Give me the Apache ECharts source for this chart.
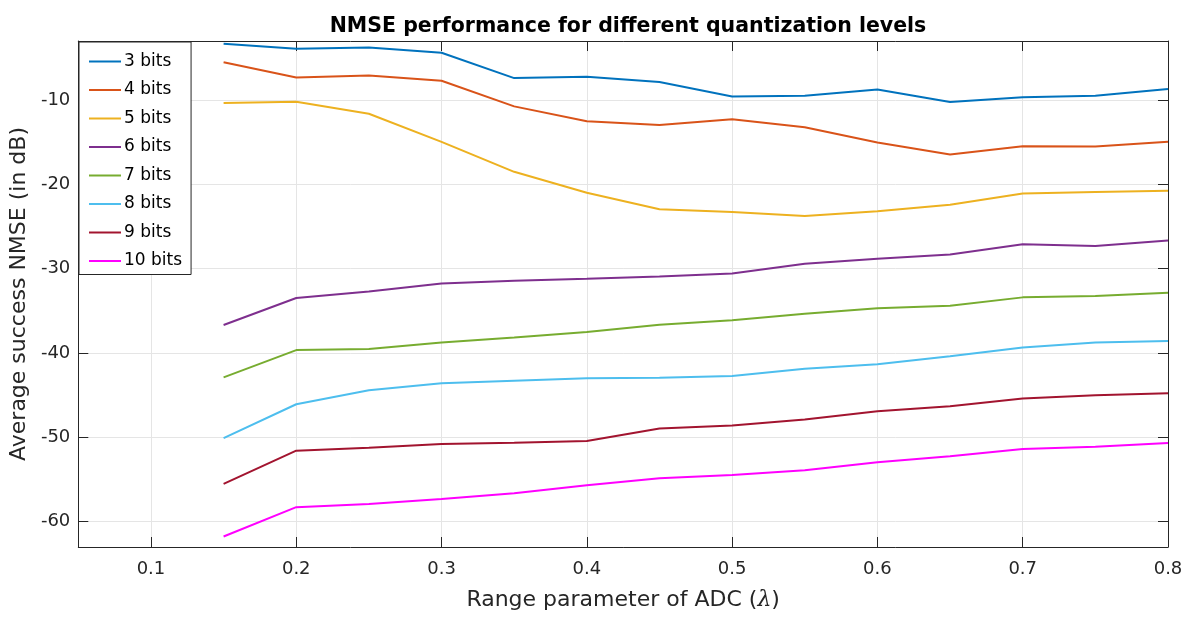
<!DOCTYPE html>
<html><head><meta charset="utf-8">
<script src="https://cdn.jsdelivr.net/npm/echarts@6/dist/echarts.min.js"></script>
<style>html,body{margin:0;padding:0;background:#fff}#c{width:1192px;height:617px}</style>
</head><body><div id="c"></div>
<script>
const xValues = [0.15,0.2,0.25,0.3,0.35,0.4,0.45,0.5,0.55,0.6,0.65,0.7,0.75,0.8];
const xTicks = [0.1,0.2,0.3,0.4,0.5,0.6,0.7,0.8];
const yTicks = [-60,-50,-40,-30,-20,-10];
const seriesNames = ['3 bits','4 bits','5 bits','6 bits','7 bits','8 bits','9 bits','10 bits'];
const bits3 = [-3.34,-3.93,-3.77,-4.40,-7.40,-7.24,-7.87,-9.57,-9.49,-8.74,-10.24,-9.68,-9.49,-8.70];
const bits4 = [-5.51,-7.32,-7.08,-7.71,-10.75,-12.52,-12.96,-12.29,-13.23,-15.04,-16.46,-15.48,-15.52,-14.96];
const bits5 = [-10.35,-10.20,-11.62,-14.96,-18.51,-21.0,-22.96,-23.28,-23.75,-23.20,-22.41,-21.07,-20.91,-20.76];
const bits6 = [-36.67,-33.48,-32.70,-31.75,-31.43,-31.20,-30.92,-30.57,-29.42,-28.83,-28.32,-27.10,-27.30,-26.67];
const bits7 = [-42.88,-39.65,-39.53,-38.74,-38.15,-37.52,-36.65,-36.10,-35.35,-34.68,-34.40,-33.40,-33.25,-32.85];
const bits8 = [-50.09,-46.07,-44.41,-43.59,-43.30,-43.00,-42.92,-42.72,-41.85,-41.34,-40.39,-39.33,-38.74,-38.58];
const bits9 = [-55.52,-51.58,-51.23,-50.80,-50.64,-50.44,-48.94,-48.59,-47.88,-46.90,-46.30,-45.40,-45.00,-44.77];
const bits10 = [-61.75,-58.28,-57.89,-57.30,-56.63,-55.68,-54.85,-54.46,-53.91,-52.96,-52.25,-51.39,-51.11,-50.68];
const allSeries = [bits3,bits4,bits5,bits6,bits7,bits8,bits9,bits10];
const colors = ['#0072BD','#D95319','#EDB120','#7E2F8E','#77AC30','#4DBEEE','#A2142F','#FF00FF'];

const FONT = "'DejaVu Sans', 'Liberation Sans', Arial, sans-serif";
const AX = '#262626';
const chart = echarts.init(document.getElementById('c'), null, {renderer:'canvas'});

function xAxisCfg(pos, labels) {
  return {
    type:'value', position:pos, min:0.05, max:0.8,
    axisLine:{show:true, onZero:false, lineStyle:{color:AX, width:1}},
    axisTick:{show:true, inside:true, length:10, customValues:xTicks, lineStyle:{color:AX}},
    axisLabel:{show:labels, customValues:xTicks, color:AX, fontSize:18, fontFamily:FONT, margin:13,
      formatter:v=>String(+v.toFixed(2))},
    splitLine:{show:labels, customValues:xTicks, lineStyle:{color:'#e5e5e5', width:1}},
    name: labels ? 'Range parameter of ADC ({i|λ})' : '',
    nameLocation:'middle', nameGap:42,
    nameTextStyle:{color:AX, fontSize:22, fontFamily:FONT,
      rich:{i:{fontStyle:'italic', fontSize:22, fontFamily:"'DejaVu Serif', serif", color:AX}}}
  };
}
function yAxisCfg(pos, labels) {
  return {
    type:'value', position:pos, min:-63, max:-3,
    axisLine:{show:true, onZero:false, lineStyle:{color:AX, width:1}},
    axisTick:{show:true, inside:true, length:10, customValues:yTicks, lineStyle:{color:AX}},
    axisLabel:{show:labels, customValues:yTicks, color:AX, fontSize:18, fontFamily:FONT, margin:8},
    splitLine:{show:labels, customValues:yTicks, lineStyle:{color:'#e5e5e5', width:1}},
    name: labels ? 'Average success NMSE (in dB)' : '',
    nameLocation:'middle', nameGap:40, nameRotate:90,
    nameTextStyle:{color:AX, fontSize:22, fontFamily:FONT}
  };
}

chart.setOption({
  animation:false,
  backgroundColor:'#fff',
  title:{text:'NMSE performance for different quantization levels', left:623, textAlign:'center', top:11,
    textStyle:{fontSize:20.5, fontWeight:'bold', color:'#000', fontFamily:FONT}},
  grid:{left:78, right:24, top:41, bottom:70, containLabel:false},
  legend:{orient:'vertical', left:79, top:42, data:seriesNames,
    itemWidth:32, itemHeight:14, itemGap:11.5, padding:[11,9,5,9],
    backgroundColor:'#fff', borderColor:AX, borderWidth:1, borderRadius:0,
    itemStyle:{opacity:0}, lineStyle:{width:2},
    textStyle:{fontSize:17, color:'#000', fontFamily:FONT, padding:[0,0,0,-2]}},
  xAxis:[xAxisCfg('bottom', true), xAxisCfg('top', false)],
  yAxis:[yAxisCfg('left', true), yAxisCfg('right', false)],
  series: allSeries.map((arr,i)=>({
    name:seriesNames[i], type:'line', xAxisIndex:0, yAxisIndex:0,
    data: arr.map((v,j)=>[xValues[j], v]),
    symbol:'none', showSymbol:false,
    lineStyle:{color:colors[i], width:2}, itemStyle:{color:colors[i]}
  }))
});
</script></body></html>
